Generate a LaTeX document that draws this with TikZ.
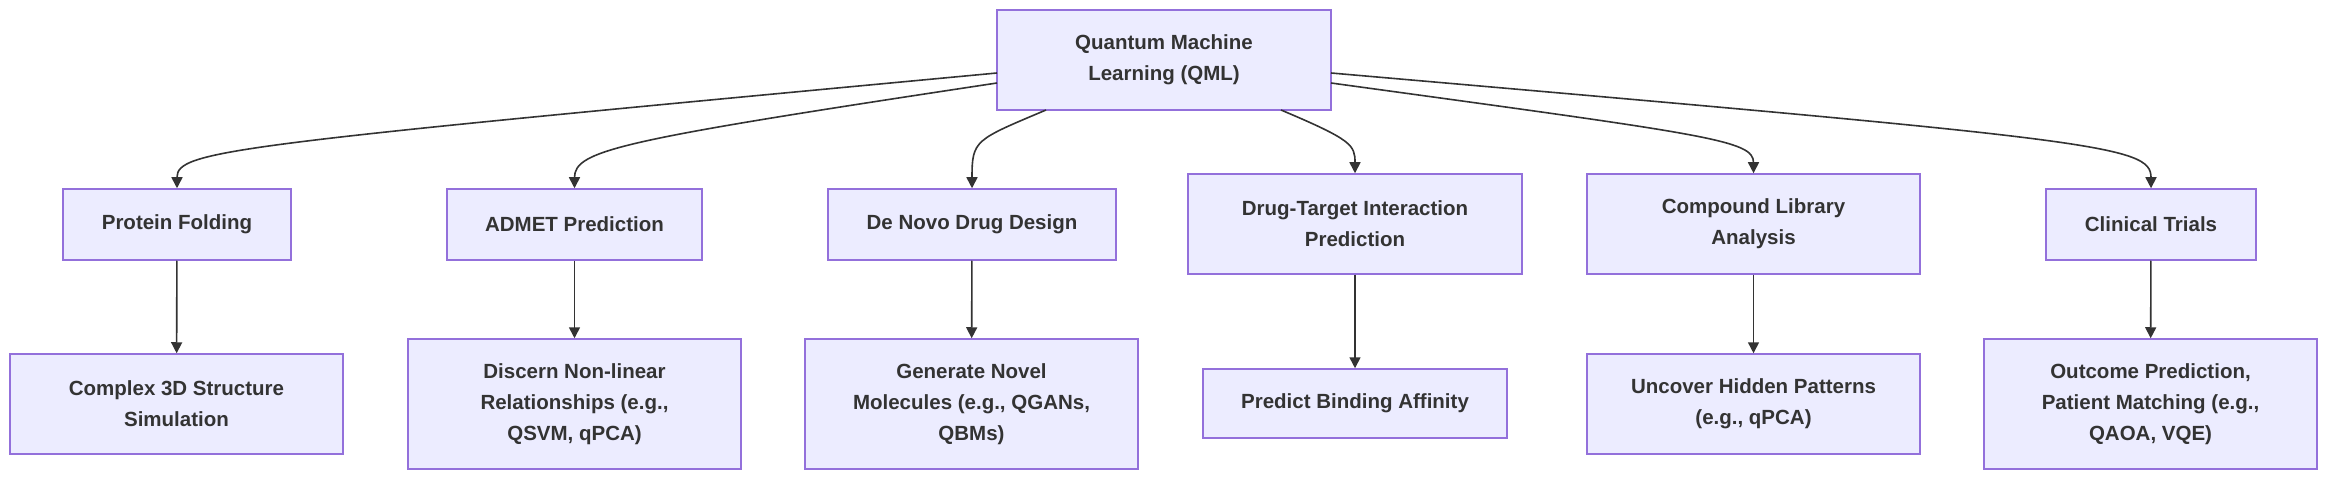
\documentclass[tikz,border=0pt]{standalone}
\usepackage{fontspec}
\setmainfont{Liberation Sans}
\usetikzlibrary{arrows.meta}
\definecolor{nfill}{HTML}{ECECFF}
\definecolor{nbord}{HTML}{9370DB}
\definecolor{ink}{HTML}{333333}
\begin{document}
\begin{tikzpicture}[x=1pt,y=-1pt,
  box/.style={draw=nbord,fill=nfill,line width=1.5pt,align=center,text=ink,
    font=\fontsize{20.5}{31}\selectfont\bfseries,inner sep=0pt},
  edge/.style={draw=ink,line width=1.6pt,-{Triangle[length=11pt,width=11pt]}}]
\useasboundingbox (0,0) rectangle (2352,486);
\newcommand{\bx}[6]{\node[box,minimum width=#4-#2,minimum height=#5-#3] (#1) at ({(#2+#4)/2},{(#3+#5)/2}) {#6};}
\bx{top}{997}{10}{1331}{110}{Quantum Machine\\Learning (QML)}
\bx{pf}{63}{189}{291}{260}{Protein Folding}
\bx{ad}{447}{189}{702}{260}{ADMET Prediction}
\bx{dn}{828}{189}{1116}{260}{De Novo Drug Design}
\bx{dt}{1188}{174}{1522}{274}{Drug-Target Interaction\\Prediction}
\bx{cl}{1587}{174}{1920}{274}{Compound Library\\Analysis}
\bx{ct}{2046}{189}{2256}{260}{Clinical Trials}
\bx{cx}{10}{354}{343}{454}{Complex 3D Structure\\Simulation}
\bx{di}{408}{339}{741}{469}{Discern Non-linear\\Relationships (e.g.,\\QSVM, qPCA)}
\bx{ge}{805}{339}{1138}{469}{Generate Novel\\Molecules (e.g., QGANs,\\QBMs)}
\bx{pr}{1203}{369}{1507}{438}{Predict Binding Affinity}
\bx{un}{1587}{354}{1920}{454}{Uncover Hidden Patterns\\(e.g., qPCA)}
\bx{ou}{1984}{339}{2317}{469}{Outcome Prediction,\\Patient Matching (e.g.,\\QAOA, VQE)}
\coordinate (s1) at (997,73);
\coordinate (s2) at (997,83);
\coordinate (s3) at (1046,110);
\coordinate (s4) at (1281,110);
\coordinate (s5) at (1331,83);
\coordinate (s6) at (1331,73);
\draw[edge] (s1) .. controls (230,145) and (177,150) .. (pf.north);
\draw[edge] (s2) .. controls (620,140) and (574.5,150) .. (ad.north);
\draw[edge] (s3) .. controls (975,140) and (972,140) .. (dn.north);
\draw[edge] (s4) .. controls (1352,140) and (1355,145) .. (dt.north);
\draw[edge] (s5) .. controls (1710,135) and (1753.5,140) .. (cl.north);
\draw[edge] (s6) .. controls (2100,140) and (2151,145) .. (ct.north);
\draw[edge] (pf) -- (cx);
\draw[edge] (ad) -- (di);
\draw[edge] (dn) -- (ge);
\draw[edge] (dt) -- (pr);
\draw[edge] (cl) -- (un);
\draw[edge] (ct) -- (ou);
\end{tikzpicture}
\end{document}
